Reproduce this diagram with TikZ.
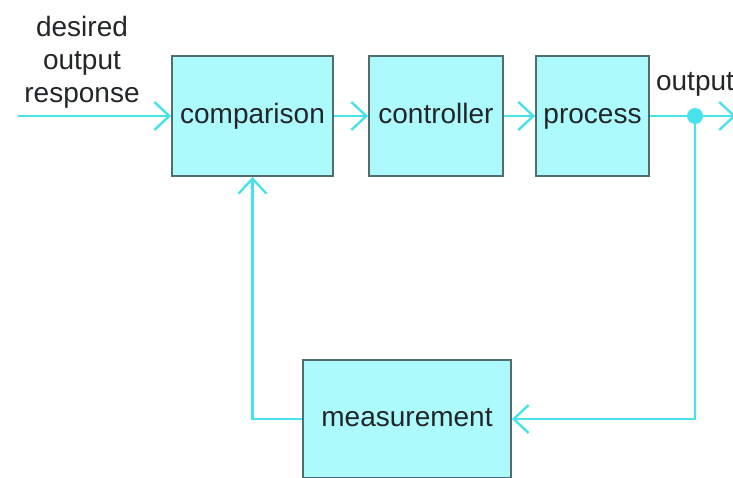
\documentclass[tikz,border=0pt]{standalone}
\usepackage{fontspec}
\setmainfont{Liberation Sans}
\usetikzlibrary{arrows.meta}
\definecolor{boxfill}{RGB}{172,250,252}
\definecolor{boxline}{RGB}{80,110,110}
\definecolor{flow}{RGB}{72,226,236}
\definecolor{ink}{RGB}{35,38,40}
\tikzset{
  block/.style={draw=boxline, line width=1.8pt, fill=boxfill, text=ink,
    font=\fontsize{28}{33}\selectfont, inner sep=0pt, minimum height=120pt,
    text height=20pt, text depth=6pt},
  link/.style={draw=flow, line width=2.8pt,
    -{Straight Barb[length=15pt,width=28pt,line width=2.4pt]}},
  wire/.style={draw=flow, line width=2.8pt},
  lbl/.style={text=ink, font=\fontsize{28}{33}\selectfont, align=center, inner sep=0pt}
}
\begin{document}
\begin{tikzpicture}[x=1pt,y=-1pt]
  \useasboundingbox (0,0) rectangle (733,477);
  \clip (0,0) rectangle (733,477);
  % blocks of the loop
  \node[block, minimum width=161pt] (cmp) at (252.5,116) {comparison};
  \node[block, minimum width=134pt] (ctl) at (436,116) {controller};
  \node[block, minimum width=113pt] (prc) at (592.5,116) {process};
  \node[block, minimum width=208pt, minimum height=118pt] (mea) at (407,419) {measurement};
  % labels
  \node[lbl] (ref) at (82,62) {desired\\output\\response};
  \node[lbl] (out) at (695,84) {output};
  % junction and helper points
  \coordinate (in) at (18,116);
  \coordinate (tap) at (695,116);
  \coordinate (outend) at (736,116);
  \coordinate (down) at (695,419);
  \coordinate (left) at (252.5,419);
  % forward path
  \draw[link] (in) -- (cmp.west);
  \draw[link] (cmp.east) -- (ctl.west);
  \draw[link] (ctl.east) -- (prc.west);
  \draw[wire] (prc.east) -- (tap);
  \draw[link] (tap) -- (outend);
  % feedback path
  \draw[link] (tap) -- (down) -- (mea.east);
  \draw[link] (mea.west) -- (left) -- (cmp.south);
  \fill[flow] (tap) circle (8pt);
\end{tikzpicture}
\end{document}
